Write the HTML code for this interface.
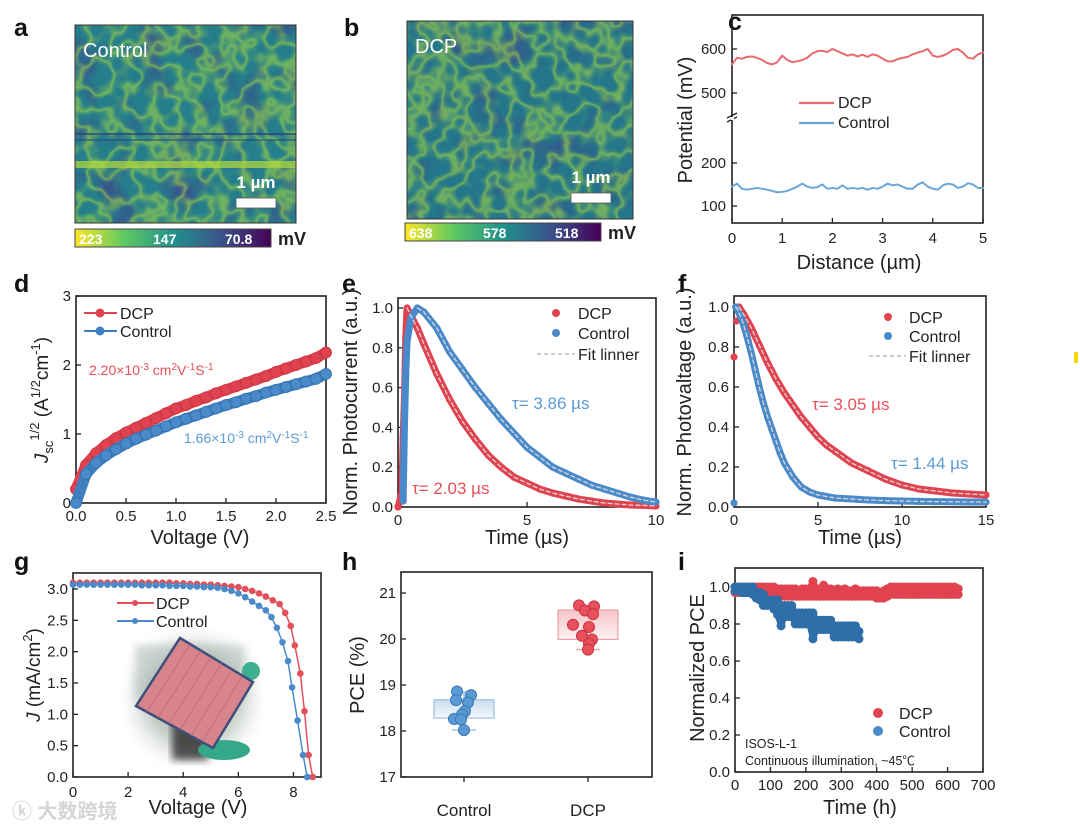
<!DOCTYPE html>
<html><head><meta charset="utf-8"><style>
html,body{margin:0;padding:0;background:#fff}
svg{display:block;font-family:"Liberation Sans","Noto Sans CJK SC",sans-serif}
</style></head><body>
<svg id="fig" xmlns="http://www.w3.org/2000/svg" width="1080" height="832" viewBox="0 0 1080 832">
<defs>
<filter id="veins" x="0" y="0" width="1" height="1">
<feTurbulence type="fractalNoise" baseFrequency="0.045" numOctaves="2" seed="4" result="n"/>
<feColorMatrix in="n" type="matrix" values="0 0 0 0 0  0 0 0 0 0  0 0 0 0 0  1 0 0 0 0" result="a"/>
<feComponentTransfer in="a" result="b"><feFuncA type="table" tableValues="0 0 0 0 0 0.25 0.75 0.25 0 0 0 0 0"/></feComponentTransfer>
<feFlood flood-color="#a6d940"/><feComposite in2="b" operator="in"/>
</filter>
<filter id="blobs" x="0" y="0" width="1" height="1">
<feTurbulence type="fractalNoise" baseFrequency="0.03" numOctaves="2" seed="9" result="n"/>
<feColorMatrix in="n" type="matrix" values="0 0 0 0 0  0 0 0 0 0  0 0 0 0 0  0 -3 0 0 1.5" result="a"/>
<feFlood flood-color="#3b4f8d"/><feComposite in2="a" operator="in"/>
</filter>
<linearGradient id="vir" x1="0" x2="1"><stop offset="0" stop-color="#fde725"/><stop offset="0.25" stop-color="#5ec962"/><stop offset="0.5" stop-color="#21918c"/><stop offset="0.75" stop-color="#3b528b"/><stop offset="1" stop-color="#440154"/></linearGradient>
<linearGradient id="boxB" x1="0" y1="0" x2="0" y2="1"><stop offset="0" stop-color="#c9dcef"/><stop offset="1" stop-color="#f4f8fc"/></linearGradient>
<linearGradient id="boxR" x1="0" y1="0" x2="0" y2="1"><stop offset="0" stop-color="#f6c5c9"/><stop offset="1" stop-color="#fdf1f2"/></linearGradient>
<radialGradient id="photoBg" cx="0.5" cy="0.5" r="0.6"><stop offset="0.55" stop-color="#c3cbc4"/><stop offset="1" stop-color="#ffffff" stop-opacity="0"/></radialGradient>
<filter id="soft"><feGaussianBlur stdDeviation="4"/></filter>
</defs>
<g id="root"></g>
</svg>
<script>
// ---------- data ----------
const cDist = [0,0.1,0.2,0.3,0.4,0.5,0.6,0.7,0.8,0.9,1,1.1,1.2,1.3,1.4,1.5,1.6,1.7,1.8,1.9,2,2.1,2.2,2.3,2.4,2.5,2.6,2.7,2.8,2.9,3,3.1,3.2,3.3,3.4,3.5,3.6,3.7,3.8,3.9,4,4.1,4.2,4.3,4.4,4.5,4.6,4.7,4.8,4.9,5];
const cDCP = [565,580,578,582,583,580,575,568,565,570,585,575,570,572,575,580,590,595,596,593,600,595,590,585,588,583,587,582,588,585,578,572,572,577,580,582,588,592,595,600,585,582,585,590,598,600,592,580,578,588,592];
const cCtrl = [145,152,140,138,140,142,140,138,135,132,133,135,140,145,152,145,142,144,150,140,142,140,148,140,142,140,142,138,142,140,145,152,148,150,145,140,140,150,155,145,140,138,148,152,150,142,145,153,150,142,142];
const dV = [0,0.1,0.2,0.3,0.4,0.5,0.6,0.7,0.8,0.9,1.0,1.1,1.2,1.3,1.4,1.5,1.6,1.7,1.8,1.9,2.0,2.1,2.2,2.3,2.4,2.5];
const dDCP = [0.2,0.55,0.72,0.84,0.94,1.02,1.09,1.16,1.23,1.3,1.37,1.42,1.48,1.53,1.59,1.64,1.69,1.74,1.79,1.84,1.9,1.95,2.0,2.05,2.1,2.18];
const dCtrl = [0.0,0.42,0.58,0.69,0.78,0.86,0.93,0.99,1.05,1.11,1.17,1.22,1.27,1.32,1.37,1.42,1.46,1.51,1.55,1.6,1.64,1.68,1.72,1.76,1.8,1.87];
const eTdcp = [0,0.15,0.2,0.25,0.3,0.35,0.5,0.75,1,1.5,2,2.5,3,3.5,4,4.5,5,5.5,6,6.5,7,7.5,8,8.5,9,9.5,10];
const eDCP = [0,0.07,0.35,0.55,0.85,1.0,0.96,0.9,0.82,0.67,0.54,0.43,0.34,0.26,0.2,0.15,0.12,0.09,0.07,0.055,0.04,0.03,0.02,0.015,0.01,0.008,0.005];
const eTctrl = [0.2,0.25,0.3,0.35,0.5,0.75,1,1.5,2,2.5,3,3.5,4,4.5,5,5.5,6,6.5,7,7.5,8,8.5,9,9.5,10];
const eCtrl = [0.03,0.41,0.66,0.83,0.95,1.0,0.98,0.9,0.78,0.69,0.6,0.52,0.44,0.37,0.3,0.25,0.2,0.17,0.14,0.11,0.09,0.07,0.05,0.035,0.025];
const fTdcp = [0,0.15,0.3,0.6,1,1.5,2,2.5,3,3.5,4,4.5,5,5.5,6,6.5,7,7.5,8,9,10,11,12,13,14,15];
const fDCP = [0.75,0.93,1.0,0.96,0.9,0.81,0.72,0.64,0.57,0.51,0.45,0.4,0.35,0.31,0.28,0.25,0.22,0.2,0.18,0.14,0.11,0.09,0.08,0.07,0.065,0.06];
const fTctrl = [0,0.1,0.2,0.5,0.75,1,1.25,1.5,1.75,2,2.25,2.5,2.75,3,3.5,4,4.5,5,6,7,8,9,10,11,12,13,14,15];
const fCtrl = [0.02,1.0,0.99,0.93,0.86,0.78,0.69,0.6,0.52,0.45,0.39,0.33,0.27,0.22,0.15,0.1,0.075,0.06,0.045,0.04,0.035,0.032,0.03,0.028,0.027,0.026,0.025,0.025];
const gVdcp = [0,0.25,0.5,0.75,1,1.25,1.5,1.75,2,2.25,2.5,2.75,3,3.25,3.5,3.75,4,4.25,4.5,4.75,5,5.25,5.5,5.75,6,6.25,6.5,6.75,7,7.25,7.5,7.7,7.9,8.05,8.25,8.4,8.55,8.7];
const gJdcp = [3.1,3.1,3.1,3.1,3.1,3.1,3.1,3.1,3.1,3.1,3.1,3.1,3.1,3.1,3.1,3.09,3.09,3.08,3.08,3.07,3.07,3.06,3.05,3.04,3.03,3.0,2.97,2.93,2.88,2.82,2.76,2.62,2.41,2.1,1.65,1.05,0.35,0.0];
const gVctrl = [0,0.25,0.5,0.75,1,1.25,1.5,1.75,2,2.25,2.5,2.75,3,3.25,3.5,3.75,4,4.25,4.5,4.75,5,5.25,5.5,5.75,6,6.25,6.5,6.75,7,7.2,7.4,7.6,7.8,7.95,8.15,8.35,8.5];
const gJctrl = [3.07,3.07,3.07,3.07,3.07,3.07,3.07,3.07,3.07,3.07,3.06,3.06,3.06,3.06,3.05,3.05,3.05,3.04,3.04,3.03,3.03,3.02,3.0,2.97,2.93,2.87,2.8,2.73,2.66,2.55,2.38,2.15,1.85,1.43,0.9,0.35,0.0];
const hCats = ["Control","DCP"];
const hCtrlPCE = [18.86,18.78,18.67,18.62,18.43,18.36,18.26,18.25,18.02];
const hCtrlJit = [-7,7,-8,4,1,-2,-10,-3,0];
const hDcpPCE = [20.73,20.71,20.62,20.54,20.31,20.26,20.07,19.99,19.9,19.77];
const hDcpJit = [-9,6,-3,5,-15,1,-6,4,1,0];
const hBoxCtrl = [18.02,18.28,18.68,18.85];
const hBoxDcp = [19.77,19.99,20.63,20.72];
const iTdcp = [0,10,20,30,40,50,60,70,80,90,100,110,120,130,140,150,160,170,180,190,200,210,220,230,240,250,260,270,280,290,300,310,320,330,340,350,360,370,380,390,400,410,420,430,440,450,460,470,480,490,500,510,520,530,540,550,560,570,580,590,600,610,620,630];
const iDcpHi = [1.0,1.0,1.0,1.0,1.0,1.0,1.0,1.0,1.0,1.0,1.0,1.0,0.99,0.99,0.99,0.99,0.99,0.99,0.98,0.99,0.99,0.99,1.03,0.99,0.99,1.01,0.99,0.99,0.98,0.99,0.98,0.99,0.98,0.98,0.99,0.98,0.98,0.98,0.98,0.98,0.98,0.97,0.98,0.99,1.0,1.0,1.0,1.0,1.0,1.0,1.0,1.0,1.0,1.0,1.0,1.0,1.0,1.0,1.0,1.0,1.0,1.0,1.0,0.99];
const iDcpLo = [0.97,0.97,0.97,0.97,0.97,0.97,0.97,0.97,0.96,0.96,0.96,0.95,0.95,0.95,0.95,0.95,0.95,0.95,0.95,0.95,0.95,0.95,0.95,0.95,0.95,0.95,0.95,0.95,0.95,0.95,0.95,0.95,0.95,0.95,0.95,0.95,0.95,0.95,0.95,0.95,0.94,0.94,0.94,0.95,0.96,0.96,0.96,0.96,0.96,0.96,0.96,0.96,0.96,0.96,0.96,0.96,0.96,0.96,0.96,0.96,0.96,0.96,0.96,0.96];
const iTctrl = [0,10,20,30,40,50,60,70,80,90,100,110,120,130,140,150,160,170,180,190,200,210,220,230,240,250,260,270,280,290,300,310,320,330,340,350];
const iCtrlHi = [1.0,1.0,1.0,1.0,1.0,1.0,0.97,0.97,0.96,0.93,0.93,0.93,0.93,0.9,0.9,0.9,0.9,0.86,0.86,0.86,0.86,0.86,0.86,0.82,0.82,0.82,0.82,0.82,0.79,0.79,0.79,0.79,0.79,0.79,0.79,0.76];
const iCtrlLo = [0.98,0.98,0.97,0.97,0.97,0.96,0.94,0.93,0.9,0.9,0.9,0.88,0.85,0.79,0.84,0.84,0.84,0.8,0.8,0.8,0.8,0.8,0.72,0.77,0.77,0.77,0.77,0.77,0.73,0.73,0.73,0.73,0.73,0.73,0.73,0.72];

// ---------- helpers ----------
const NS="http://www.w3.org/2000/svg";
const root=document.getElementById('root');
const RED="#e0434f", BLUE="#3f7fbf", LRED="#e8505b", LBLUE="#5b9bd5", DBLUE="#2f6ea8";
function mk(tag,attrs,parent){const e=document.createElementNS(NS,tag);for(const k in attrs)e.setAttribute(k,attrs[k]);(parent||root).appendChild(e);return e;}
function txt(s,x,y,size,opts,parent){opts=opts||{};const e=mk('text',{x:x,y:y,'font-size':size,fill:opts.fill||'#222','text-anchor':opts.anchor||'start','font-weight':opts.weight||'normal'},parent);if(opts.rot)e.setAttribute('transform','rotate(-90 '+x+' '+y+')');e.textContent=s;return e;}
function lin(d0,d1,r0,r1){return v=>r0+(v-d0)*(r1-r0)/(d1-d0);}
function frame(name,L,T,R,B){const r=mk('rect',{x:L,y:T,width:R-L,height:B-T,fill:'none',stroke:'#222','stroke-width':1.6});

}
function xTicks(prefix,sx,vals,labels,B,ly){vals.forEach((v,i)=>{const t=mk('line',{x1:sx(v),x2:sx(v),y1:B,y2:B-5,stroke:'#222','stroke-width':1.3});


const l=txt(labels[i],sx(v),ly,15,{anchor:'middle'});

});}
function yTicks(prefix,sy,vals,labels,L,lx){vals.forEach((v,i)=>{const t=mk('line',{x1:L,x2:L+5,y1:sy(v),y2:sy(v),stroke:'#222','stroke-width':1.3});


const l=txt(labels[i],lx,sy(v)+5,15,{anchor:'end'});

});}
function pts(xs,ys,sx,sy){return xs.map((x,i)=>sx(x)+','+sy(ys[i])).join(' ');}
function line(name,xs,ys,sx,sy,color,w,dash){const p=mk('polyline',{points:pts(xs,ys,sx,sy),fill:'none',stroke:color,'stroke-width':w,'stroke-linejoin':'round','stroke-linecap':'round'});if(dash)p.setAttribute('stroke-dasharray',dash);

return p;}
function dots(name,xs,ys,sx,sy,color,r,stroke){xs.forEach((x,i)=>{const c=mk('circle',{cx:sx(x),cy:sy(ys[i]),r:r,fill:color,stroke:stroke||'none','stroke-width':0.8});

});}
function label(s,x,y){const l=txt(s,x,y,25,{weight:'bold',fill:'#111'});

}
function title(name,s,x,y,rot){const t=txt(s,x,y,20,{anchor:'middle',rot:rot});

return t;}

// ---------- panel labels ----------
[['a',14,36],['b',344,36],['c',728,30],['d',14,292],['e',342,292],['f',678,292],['g',14,570],['h',342,570],['i',678,570]].forEach(a=>label(a[0],a[1],a[2]));

// ---------- a / b maps ----------
function kpfm(prefix,x,y,w,h,base,txtLab,barX,barY,cbX,cbY,cbLabels,streaks){
 const g=mk('g',{});
 
 
 mk('rect',{x:x,y:y,width:w,height:h,fill:base},g);
 mk('rect',{x:x,y:y,width:w,height:h,fill:'#000',filter:'url(#blobs)',opacity:0.85},g);
 mk('rect',{x:x,y:y,width:w,height:h,fill:'#000',filter:'url(#veins)',opacity:0.8},g);
 if(streaks){mk('rect',{x:x,y:y+136,width:w,height:7,fill:'#b6dc3a',opacity:0.7},g);
  mk('rect',{x:x,y:y+108,width:w,height:2,fill:'#2b3f7a',opacity:0.7},g);
  mk('rect',{x:x,y:y+114,width:w,height:2,fill:'#2b3f7a',opacity:0.5},g);}
 mk('rect',{x:x,y:y,width:w,height:h,fill:'none',stroke:'#333','stroke-width':1},g);
 const t=txt(txtLab,x+8,y+32,20,{fill:'#fff'});
 
 
 const sb=txt('1 µm',barX+20,barY-10,17,{fill:'#fff',weight:'bold',anchor:'middle'});
 
 
 const br=mk('rect',{x:barX,y:barY,width:40,height:10,fill:'#fff',stroke:'#555','stroke-width':0.8});
 
 
 const cb=mk('rect',{x:cbX,y:cbY,width:196,height:18,fill:'url(#vir)',stroke:'#444','stroke-width':1});
 
 
 [cbX+4,cbX+78,cbX+150].forEach((px,i)=>{const l=txt(cbLabels[i],px,cbY+15,14,{fill:'#fff',weight:'bold'});
 
 });
 const mv=txt('mV',cbX+203,cbY+16,18,{weight:'bold'});
 
 
}
kpfm('a',75,25,221,198,'#257e8b','Control',236,198,75,229,['223','147','70.8'],true);
kpfm('b',407,21,226,198,'#24768a','DCP',571,193,405,223,['638','578','518'],false);

// ---------- c ----------
(function(){
 const L=732,R=983,T=15,B=223;
 const sx=lin(0,5,L,R);
 const sy=v=> v>=400 ? 93-(v-500)*0.44 : 206-(v-100)*0.43;
 frame('c-plot-frame',L,T,R,B);
 xTicks('c',sx,[0,1,2,3,4,5],['0','1','2','3','4','5'],B,243);
 yTicks('c',sy,[100,200,500,600],['100','200','500','600'],L,726);
 const bk=mk('path',{d:'M'+(L-5)+' 118 l10 -5 M'+(L-5)+' 122 l10 -5',stroke:'#222','stroke-width':1.3,fill:'none'});
 
 
 mk('rect',{x:L-1,y:117,width:3,height:3,fill:'#fff'});
 line('c-dcp-line',cDist,cDCP,sx,sy,'#e86a6e',2);
 line('c-control-line',cDist,cCtrl,sx,sy,'#6aa7d8',2);
 const l1=mk('line',{x1:799,x2:834,y1:103,y2:103,stroke:'#e86a6e','stroke-width':2.2});
 
 
 const t1=txt('DCP',838,108,16);
 
 
 const l2=mk('line',{x1:799,x2:834,y1:123,y2:123,stroke:'#6aa7d8','stroke-width':2.2});
 
 
 const t2=txt('Control',838,128,16);
 
 
 title('c-y-axis-title','Potential (mV)',692,120,true);
 title('c-x-axis-title','Distance (µm)',859,269);
})();

// ---------- d ----------
(function(){
 const L=76,R=326,T=296,B=503;
 const sx=lin(0,2.5,L,R), sy=lin(0,3,B,T);
 frame('d-plot-frame',L,T,R,B);
 xTicks('d',sx,[0,0.5,1,1.5,2,2.5],['0.0','0.5','1.0','1.5','2.0','2.5'],B,521);
 yTicks('d',sy,[0,1,2,3],['0','1','2','3'],L,71);
 line('d-dcp-band',dV,dDCP,sx,sy,RED,11);
 dots('d-dcp-point',dV,dDCP,sx,sy,RED,5.5,'#c83240');
 line('d-control-band',dV,dCtrl,sx,sy,BLUE,11);
 dots('d-control-point',dV,dCtrl,sx,sy,'#4a8acb',5.5,'#2f6ea8');
 [[313,RED,'DCP'],[331,BLUE,'Control']].forEach(a=>{const l=mk('line',{x1:84,x2:117,y1:a[0],y2:a[0],stroke:a[1],'stroke-width':2});
 
 
 const c=mk('circle',{cx:100,cy:a[0],r:4.5,fill:a[1]});
 
 
 const t=txt(a[2],120,a[0]+6,16);
 
 });
 const a1=mk('text',{x:89,y:375,'font-size':14,fill:LRED});a1.innerHTML='2.20×10<tspan dy="-5" font-size="10">-3</tspan><tspan dy="5"> cm</tspan><tspan dy="-5" font-size="10">2</tspan><tspan dy="5">V</tspan><tspan dy="-5" font-size="10">-1</tspan><tspan dy="5">S</tspan><tspan dy="-5" font-size="10">-1</tspan>';
 
 
 const a2=mk('text',{x:184,y:443,'font-size':14,fill:LBLUE});a2.innerHTML='1.66×10<tspan dy="-5" font-size="10">-3</tspan><tspan dy="5"> cm</tspan><tspan dy="-5" font-size="10">2</tspan><tspan dy="5">V</tspan><tspan dy="-5" font-size="10">-1</tspan><tspan dy="5">S</tspan><tspan dy="-5" font-size="10">-1</tspan>';
 
 
 const yt=mk('text',{x:48,y:400,'font-size':19,fill:'#222','text-anchor':'middle',transform:'rotate(-90 48 400)'});
 yt.innerHTML='<tspan font-style="italic">J</tspan><tspan font-size="13" dy="5">sc</tspan><tspan font-size="13" dy="-14">1/2</tspan><tspan dy="9"> (A</tspan><tspan font-size="13" dy="-8">1/2</tspan><tspan dy="8">cm</tspan><tspan font-size="13" dy="-8">-1</tspan><tspan dy="8">)</tspan>';
 
 
 title('d-x-axis-title','Voltage (V)',200,544);
})();

// ---------- e ----------
(function(){
 const L=398,R=656,T=298,B=507;
 const sx=lin(0,10,L,R), sy=lin(0,1,B,308);
 frame('e-plot-frame',L,T,R,B);
 xTicks('e',sx,[0,5,10],['0','5','10'],B,525);
 yTicks('e',sy,[0,0.2,0.4,0.6,0.8,1.0],['0.0','0.2','0.4','0.6','0.8','1.0'],L,393);
 line('e-dcp-band',eTdcp,eDCP,sx,sy,RED,7);
 dots('e-dcp-point',eTdcp,eDCP,sx,sy,RED,3.6);
 line('e-control-band',eTctrl,eCtrl,sx,sy,'#4a8acb',7);
 dots('e-control-point',eTctrl,eCtrl,sx,sy,'#4a8acb',3.6);
 line('e-dcp-fit',eTdcp.slice(5),eDCP.slice(5),sx,sy,'#d8d8d8',1.3,'4 3');
 line('e-control-fit',eTctrl.slice(5),eCtrl.slice(5),sx,sy,'#d8d8d8',1.3,'4 3');
 [[313,RED,'DCP'],[333,'#4a8acb','Control']].forEach(a=>{const c=mk('circle',{cx:556,cy:a[0],r:4,fill:a[1]});
 
 
 const t=txt(a[2],578,a[0]+6,16);
 
 });
 const fl=mk('line',{x1:537,x2:575,y1:354,y2:354,stroke:'#bbb','stroke-width':1.5,'stroke-dasharray':'4 3'});
 
 
 const ft=txt('Fit linner',578,360,16);
 
 
 const t1=txt('τ= 3.86 µs',512,409,17,{fill:LBLUE});
 
 
 const t2=txt('τ= 2.03 µs',412,494,17,{fill:LRED});
 
 
 title('e-y-axis-title','Norm. Photocurrent (a.u.)',357,402,true);
 title('e-x-axis-title','Time (µs)',527,544);
})();

// ---------- f ----------
(function(){
 const L=734,R=986,T=296,B=507;
 const sx=lin(0,15,L,R), sy=lin(0,1,B,307);
 frame('f-plot-frame',L,T,R,B);
 xTicks('f',sx,[0,5,10,15],['0','5','10','15'],B,525);
 yTicks('f',sy,[0,0.2,0.4,0.6,0.8,1.0],['0.0','0.2','0.4','0.6','0.8','1.0'],L,729);
 line('f-dcp-band',fTdcp.slice(2),fDCP.slice(2),sx,sy,RED,7);
 dots('f-dcp-point',fTdcp,fDCP,sx,sy,RED,3.6);
 line('f-control-band',fTctrl.slice(1),fCtrl.slice(1),sx,sy,'#4a8acb',7);
 dots('f-control-point',fTctrl,fCtrl,sx,sy,'#4a8acb',3.6);
 line('f-dcp-fit',fTdcp.slice(2),fDCP.slice(2),sx,sy,'#d8d8d8',1.3,'4 3');
 line('f-control-fit',fTctrl.slice(1),fCtrl.slice(1),sx,sy,'#d8d8d8',1.3,'4 3');
 [[317,RED,'DCP'],[336,'#4a8acb','Control']].forEach(a=>{const c=mk('circle',{cx:888,cy:a[0],r:4,fill:a[1]});
 
 
 const t=txt(a[2],909,a[0]+6,16);
 
 });
 const fl=mk('line',{x1:869,x2:906,y1:356,y2:356,stroke:'#bbb','stroke-width':1.5,'stroke-dasharray':'4 3'});
 
 
 const ft=txt('Fit linner',909,362,16);
 
 
 const t1=txt('τ= 3.05 µs',812,410,17,{fill:LRED});
 
 
 const t2=txt('τ= 1.44 µs',891,469,17,{fill:LBLUE});
 
 
 title('f-y-axis-title','Norm. Photovaltage (a.u.)',691,402,true);
 title('f-x-axis-title','Time (µs)',860,544);
 const ym=mk('rect',{x:1074,y:352,width:4,height:11,fill:'#f5d90a'});
 
 
})();

// ---------- g ----------
(function(){
 const L=73,R=321,T=573,B=777;
 const sx=lin(0,9,L,R), sy=lin(0,3,B,589);
 const ph=mk('g',{});
 
 
 mk('rect',{x:126,y:632,width:134,height:132,fill:'url(#photoBg)',filter:'url(#soft)'},ph);
 mk('rect',{x:135,y:645,width:110,height:55,fill:'#aab8b0',opacity:0.5,filter:'url(#soft)'},ph);
 mk('rect',{x:172,y:705,width:36,height:55,fill:'#2a2a2a',opacity:0.8,filter:'url(#soft)'},ph);
 mk('ellipse',{cx:251,cy:671,rx:9,ry:9,fill:'#3fb08f'},ph);
 mk('ellipse',{cx:224,cy:750,rx:26,ry:10,fill:'#36a88a'},ph);
 mk('polygon',{points:'180,638 253,682 213,748 136,706',fill:'#d7848d',stroke:'#3d4f7a','stroke-width':2.5},ph);
 for(let k=1;k<7;k++){mk('line',{x1:180+k*10.4,y1:638+k*6.3,x2:136+k*11,y2:706+k*6,stroke:'#b96470','stroke-width':0.7},ph);}
 frame('g-plot-frame',L,T,R,B);
 xTicks('g',sx,[0,2,4,6,8],['0','2','4','6','8'],B,797);
 yTicks('g',sy,[0,0.5,1,1.5,2,2.5,3],['0.0','0.5','1.0','1.5','2.0','2.5','3.0'],L,68);
 line('g-dcp-line',gVdcp,gJdcp,sx,sy,'#e2505a',1.5);
 dots('g-dcp-point',gVdcp,gJdcp,sx,sy,'#e2505a',3.3);
 line('g-control-line',gVctrl,gJctrl,sx,sy,'#4a8acb',1.5);
 dots('g-control-point',gVctrl,gJctrl,sx,sy,'#4a8acb',3.3);
 [[603,'#e2505a','DCP'],[621,'#4a8acb','Control']].forEach(a=>{const l=mk('line',{x1:117,x2:154,y1:a[0],y2:a[0],stroke:a[1],'stroke-width':2});
 
 
 const c=mk('circle',{cx:135,cy:a[0],r:3,fill:a[1]});
 
 
 const t=txt(a[2],156,a[0]+6,16);
 
 });
 const yt=mk('text',{x:40,y:675,'font-size':19,fill:'#222','text-anchor':'middle',transform:'rotate(-90 40 675)'});
 yt.innerHTML='<tspan font-style="italic">J</tspan> (mA/cm<tspan font-size="13" dy="-8">2</tspan><tspan dy="8">)</tspan>';
 
 
 title('g-x-axis-title','Voltage (V)',198,814);
 const wm=txt('ⓚ 大数跨境',12,818,20,{fill:'#d4d4d4',weight:'bold'});
 
 
})();

// ---------- h ----------
(function(){
 const L=401,R=652,T=572,B=777;
 const sy=lin(17,21,B,593);
 const cx=[464,588];
 frame('h-plot-frame',L,T,R,B);
 yTicks('h',sy,[17,18,19,20,21],['17','18','19','20','21'],L,396);
 cx.forEach((x,i)=>{const t=mk('line',{x1:x,x2:x,y1:B,y2:B+5,stroke:'#222','stroke-width':1.3});
 
 
 const l=txt(hCats[i],x,816,17,{anchor:'middle'});
 
 });
 function box(name,x,b,fill,stroke){
  const r=mk('rect',{x:x-30,y:sy(b[2]),width:60,height:sy(b[1])-sy(b[2]),fill:fill,stroke:stroke,'stroke-width':1.2});
  
  
  const w=mk('path',{d:'M'+x+' '+sy(b[0])+'V'+sy(b[1])+'M'+x+' '+sy(b[2])+'V'+sy(b[3])+'M'+(x-12)+' '+sy(b[0])+'h24M'+(x-12)+' '+sy(b[3])+'h24',stroke:stroke,'stroke-width':1.4,fill:'none'});
  
  }
 box('h-control',cx[0],hBoxCtrl,'url(#boxB)','#9cc0e3');
 box('h-dcp',cx[1],hBoxDcp,'url(#boxR)','#f0a0a6');
 hCtrlPCE.forEach((v,i)=>{const c=mk('circle',{cx:cx[0]+hCtrlJit[i],cy:sy(v),r:5.5,fill:'#5b9bd5',stroke:'#3a78b5','stroke-width':1});
 
 });
 hDcpPCE.forEach((v,i)=>{const c=mk('circle',{cx:cx[1]+hDcpJit[i],cy:sy(v),r:5.5,fill:'#e8505b',stroke:'#c83240','stroke-width':1});
 
 });
 title('h-y-axis-title','PCE (%)',364,675,true);
})();

// ---------- i ----------
(function(){
 const L=735,R=983,T=568,B=772;
 const sx=lin(0,700,L,R), sy=lin(0,1,B,587);
 frame('i-plot-frame',L,T,R,B);
 xTicks('i',sx,[0,100,200,300,400,500,600,700],['0','100','200','300','400','500','600','700'],B,790);
 yTicks('i',sy,[0,0.2,0.4,0.6,0.8,1.0],['0.0','0.2','0.4','0.6','0.8','1.0'],L,730);
 function band(name,t,hi,lo,color){
  const p=mk('polygon',{points:pts(t,hi,sx,sy)+' '+pts(t.slice().reverse(),lo.slice().reverse(),sx,sy),fill:color,stroke:color,'stroke-width':6,'stroke-linejoin':'round'});
  
  
  dots(name+'-point',t,hi,sx,sy,color,4.5);
  dots(name+'-point',t,lo,sx,sy,color,4.5);}
 band('i-dcp',iTdcp,iDcpHi,iDcpLo,'#e0434f');
 band('i-control',iTctrl,iCtrlHi,iCtrlLo,'#2f6ea8');
 [[713,'#e0434f','DCP'],[731,'#4a8acb','Control']].forEach(a=>{const c=mk('circle',{cx:878,cy:a[0],r:5,fill:a[1]});
 
 
 const t=txt(a[2],899,a[0]+6,16);
 
 });
 const n1=txt('ISOS-L-1',745,748,12.5);
 
 
 const n2=txt('Continuous illumination, ~45℃',745,765,12.5);
 
 
 title('i-y-axis-title','Normalized PCE',704,668,true);
 title('i-x-axis-title','Time (h)',860,814);
})();
</script>
</body></html>
